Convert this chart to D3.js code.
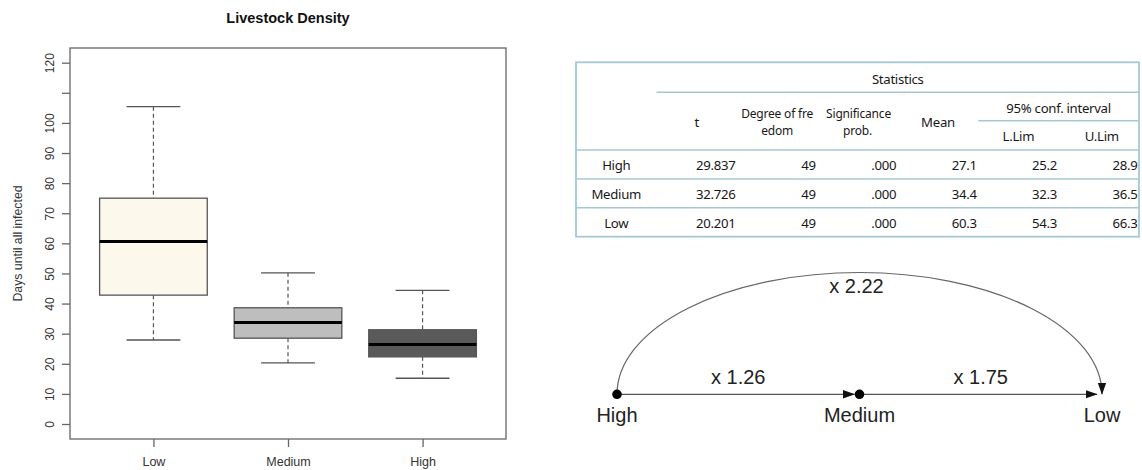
<!DOCTYPE html>
<html>
<head>
<meta charset="utf-8">
<script src="https://cdn.jsdelivr.net/npm/d3@7"></script>
<style>
  body { margin: 0; background: #fff; }
  svg { display: block; }
</style>
</head>
<body>
<svg id="chart" width="1142" height="470"></svg>
<script>
// Box-plot summaries: days until all animals are infected, by livestock density
const categories  = ["Low", "Medium", "High"];
const whiskerLow  = [27.9, 20.3, 15.2];
const q1          = [42.8, 28.5, 22.3];
const medians     = [60.6, 33.7, 26.4];
const q3          = [75.0, 38.6, 31.3];
const whiskerHigh = [105.4, 50.2, 44.4];

const yTicks      = [0, 10, 20, 30, 40, 50, 60, 70, 80, 90, 100, 110, 120];
const yTickLabels = ["0", "10", "20", "30", "40", "50", "60", "70", "80", "90", "100", "", "120"];

// One-sample t-test statistics
const statGroups  = ["High", "Medium", "Low"];
const tValues     = ["29.837", "32.726", "20.201"];
const dfValues    = ["49", "49", "49"];
const sigValues   = [".000", ".000", ".000"];
const meanValues  = ["27.1", "34.4", "60.3"];
const lowerLimits = ["25.2", "32.3", "54.3"];
const upperLimits = ["28.9", "36.5", "66.3"];

// Ratio diagram between density groups
const ratioNodes  = ["High", "Medium", "Low"];
const ratioLabels = ["x 1.26", "x 1.75", "x 2.22"];

const svg = d3.select("#chart");
const axisFont = "'Liberation Sans', Arial, Helvetica, sans-serif";

/* ---------------- Box plot ---------------- */
const frame = { left: 70, right: 506, top: 48, bottom: 439 };
const y = d3.scaleLinear().domain([0, 120]).range([424, 62.7]);
const x = d3.scaleLinear().domain([0.38, 3.62]).range([frame.left, frame.right]);
const boxW = x(0.8) - x(0);
const fills = ["#fdf8ec", "#bebebe", "#5a5a5a"];

const plot = svg.append("g");

plot.append("text")
  .attr("x", 288).attr("y", 23)
  .attr("text-anchor", "middle")
  .attr("font-family", axisFont).attr("font-weight", "bold").attr("font-size", 14.5)
  .attr("fill", "#111")
  .text("Livestock Density");

const boxes = plot.selectAll("g.box")
  .data(categories.map((c, i) => ({
    c, i, lo: whiskerLow[i], q1: q1[i], med: medians[i], q3: q3[i], hi: whiskerHigh[i]
  })))
  .join("g").attr("class", "box");

// dashed whiskers
boxes.append("line")
  .attr("x1", d => x(d.i + 1)).attr("x2", d => x(d.i + 1))
  .attr("y1", d => y(d.hi)).attr("y2", d => y(d.q3))
  .attr("stroke", "#555").attr("stroke-width", 1.2).attr("stroke-dasharray", "4,3");
boxes.append("line")
  .attr("x1", d => x(d.i + 1)).attr("x2", d => x(d.i + 1))
  .attr("y1", d => y(d.q1)).attr("y2", d => y(d.lo))
  .attr("stroke", "#555").attr("stroke-width", 1.2).attr("stroke-dasharray", "4,3");
// whisker caps
["hi", "lo"].forEach(k => {
  boxes.append("line")
    .attr("x1", d => x(d.i + 1) - boxW / 4).attr("x2", d => x(d.i + 1) + boxW / 4)
    .attr("y1", d => y(d[k])).attr("y2", d => y(d[k]))
    .attr("stroke", "#555").attr("stroke-width", 1.3);
});
// boxes
boxes.append("rect")
  .attr("x", d => x(d.i + 1) - boxW / 2).attr("width", boxW)
  .attr("y", d => y(d.q3)).attr("height", d => y(d.q1) - y(d.q3))
  .attr("fill", d => fills[d.i])
  .attr("stroke", "#555").attr("stroke-width", 1.3);
// medians
boxes.append("line")
  .attr("x1", d => x(d.i + 1) - boxW / 2).attr("x2", d => x(d.i + 1) + boxW / 2)
  .attr("y1", d => y(d.med)).attr("y2", d => y(d.med))
  .attr("stroke", "#000").attr("stroke-width", 3);

// plot frame
plot.append("rect")
  .attr("x", frame.left).attr("y", frame.top)
  .attr("width", frame.right - frame.left).attr("height", frame.bottom - frame.top)
  .attr("fill", "none").attr("stroke", "#666").attr("stroke-width", 1.3);

// y axis
const yAxis = plot.append("g")
  .attr("transform", `translate(${frame.left},0)`)
  .call(d3.axisLeft(y).tickValues(yTicks).tickSize(8).tickSizeOuter(0)
    .tickFormat((d, i) => yTickLabels[i]));
yAxis.select(".domain").remove();
yAxis.selectAll("line").attr("stroke", "#666").attr("stroke-width", 1.3);
yAxis.selectAll("text")
  .attr("transform", "rotate(-90)")
  .attr("x", 0).attr("y", -16.5).attr("dy", 0)
  .attr("text-anchor", "middle")
  .attr("font-family", axisFont).attr("font-size", 12).attr("fill", "#333");

// x axis
const xAxis = plot.append("g")
  .attr("transform", `translate(0,${frame.bottom})`)
  .call(d3.axisBottom(x).tickValues([1, 2, 3]).tickSize(8).tickSizeOuter(0)
    .tickFormat((d, i) => categories[i]));
xAxis.select(".domain").remove();
xAxis.selectAll("line").attr("stroke", "#666").attr("stroke-width", 1.3);
xAxis.selectAll("text")
  .attr("y", 27).attr("dy", 0)
  .attr("font-family", axisFont).attr("font-size", 12.5).attr("fill", "#333");

plot.append("text")
  .attr("transform", `translate(22,${(frame.top + frame.bottom) / 2}) rotate(-90)`)
  .attr("text-anchor", "middle")
  .attr("font-family", axisFont).attr("font-size", 12.3).attr("fill", "#333")
  .text("Days until all infected");

/* ---------------- Statistics table ---------------- */
const tbl = { left: 576, right: 1139, top: 62.3, bottom: 236.7, headBottom: 150 };
const tableFont = "'Noto Sans', 'Open Sans', sans-serif";
const lineColor = "#a6c8d6";
const columns = ["t", "df", "sig", "mean", "lower", "upper"];
const col = d3.scaleBand().domain(columns).range([656.5, tbl.right]);
const rowY = d3.scaleBand().domain(statGroups).range([tbl.headBottom, tbl.bottom]);

const table = svg.append("g")
  .attr("font-family", tableFont).attr("font-size", 13.2)
  .attr("letter-spacing", -0.3).attr("fill", "#1a1718");

// rules
const hRule = (x1, x2, yy) => table.append("line")
  .attr("x1", x1).attr("x2", x2).attr("y1", yy).attr("y2", yy)
  .attr("stroke", lineColor).attr("stroke-width", 1.5);
hRule(col.range()[0], tbl.right, 92.3);
hRule(col("lower"), tbl.right, 120.7);
hRule(tbl.left, tbl.right, tbl.headBottom);
statGroups.slice(1).forEach(g => hRule(tbl.left, tbl.right, rowY(g)));
table.append("rect")
  .attr("x", tbl.left).attr("y", tbl.top)
  .attr("width", tbl.right - tbl.left).attr("height", tbl.bottom - tbl.top)
  .attr("fill", "none").attr("stroke", lineColor).attr("stroke-width", 1.8);

// headers
const cx = c => col(c) + col.bandwidth() / 2;
const head = (xx, yy, s, size) => {
  const t = table.append("text")
    .attr("x", xx).attr("y", yy).attr("text-anchor", "middle").text(s);
  if (size) t.attr("font-size", size).attr("letter-spacing", -0.2);
  return t;
};
head((col.range()[0] + tbl.right) / 2, 84, "Statistics");
head(cx("t"), 126.7, "t");
// wrapped two-line headers
head(cx("df"), 118.4, "Degree of fre", 12);
head(cx("df"), 134.9, "edom", 12);
head(cx("sig") + 1, 118.4, "Significance", 12);
head(cx("sig"), 134.9, "prob.", 12);
head(cx("mean"), 126.7, "Mean");
head(col("upper"), 112.7, "95% conf. interval");
head(cx("lower"), 141, "L.Lim");
head(cx("upper") + 3, 141, "U.Lim");

// body rows
const columnValues = { t: tValues, df: dfValues, sig: sigValues, mean: meanValues, lower: lowerLimits, upper: upperLimits };
const rows = table.selectAll("g.row").data(statGroups).join("g").attr("class", "row")
  .attr("transform", g => `translate(0,${rowY(g) + rowY.bandwidth() / 2 + 5.8})`);
rows.append("text")
  .attr("x", (tbl.left + col.range()[0]) / 2)
  .attr("text-anchor", "middle")
  .text(g => g);
columns.forEach(c => {
  rows.append("text")
    .attr("x", col(c) + col.bandwidth() - 1.5)
    .attr("text-anchor", "end")
    .text((g, i) => columnValues[c][i]);
});

/* ---------------- Ratio diagram ---------------- */
const lineY = 394.3;
const nx = d3.scalePoint().domain(ratioNodes).range([617, 1102]);
const diagFont = axisFont;
const diag = svg.append("g");

const defs = svg.append("defs");
defs.append("marker")
  .attr("id", "arrowHead")
  .attr("markerUnits", "userSpaceOnUse")
  .attr("viewBox", "0 0 12 10")
  .attr("markerWidth", 12).attr("markerHeight", 10)
  .attr("refX", 11.5).attr("refY", 5)
  .attr("orient", "auto")
  .append("path").attr("d", "M0,0.8 L12,5 L0,9.2 Z").attr("fill", "#111");

// straight arrows between neighbouring groups
const pairs = [["High", "Medium"], ["Medium", "Low"]];
diag.selectAll("line.step").data(pairs).join("line").attr("class", "step")
  .attr("x1", d => nx(d[0])).attr("x2", d => nx(d[1]) - 5)
  .attr("y1", lineY).attr("y2", lineY)
  .attr("stroke", "#555").attr("stroke-width", 1.3)
  .attr("marker-end", "url(#arrowHead)");

// arc from High to Low
const rx = (nx("Low") - nx("High")) / 2;
diag.append("path")
  .attr("d", `M${nx("High")},${lineY} A${rx},121.8 0 0 1 ${nx("Low")},${lineY}`)
  .attr("fill", "none").attr("stroke", "#666").attr("stroke-width", 1.2)
  .attr("marker-end", "url(#arrowHead)");

// node dots (Low has none)
diag.selectAll("circle").data(["High", "Medium"]).join("circle")
  .attr("cx", d => nx(d)).attr("cy", lineY).attr("r", 4.8).attr("fill", "#000");

diag.selectAll("text.node").data(ratioNodes).join("text").attr("class", "node")
  .attr("x", d => nx(d)).attr("y", 421.5)
  .attr("text-anchor", "middle")
  .attr("font-family", diagFont).attr("font-size", 20).attr("fill", "#222")
  .text(d => d);

const labelPos = [
  [(nx("High") + nx("Medium")) / 2, 384],
  [(nx("Medium") + nx("Low")) / 2, 384],
  [(nx("High") + nx("Low")) / 2 - 3, 293.3]
];
diag.selectAll("text.ratio").data(ratioLabels).join("text").attr("class", "ratio")
  .attr("x", (d, i) => labelPos[i][0]).attr("y", (d, i) => labelPos[i][1])
  .attr("text-anchor", "middle")
  .attr("font-family", diagFont).attr("font-size", 20).attr("fill", "#222")
  .text(d => d);
</script>
</body>
</html>
